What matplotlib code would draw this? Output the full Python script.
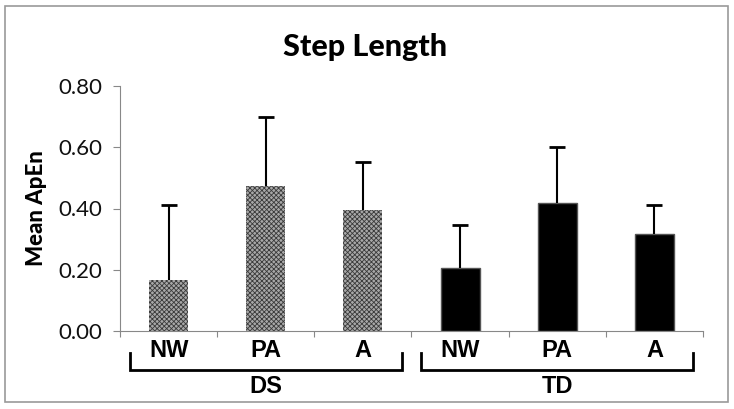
import matplotlib
matplotlib.use("Agg")
import matplotlib.pyplot as plt
from matplotlib.patches import Rectangle
import numpy as np

groups = ['DS', 'TD']
conditions = ['NW', 'PA', 'A']
ds_mean = [0.167, 0.473, 0.395]
ds_sd = [0.245, 0.227, 0.157]
td_mean = [0.206, 0.417, 0.317]
td_sd = [0.141, 0.183, 0.095]
yticks = [0.0, 0.2, 0.4, 0.6, 0.8]

plt.rcParams['hatch.linewidth'] = 0.6

fig = plt.figure(figsize=(7.34, 4.09), dpi=100)
ax = fig.add_axes([120/734, 78/409, 583/734, 245/409])

# outer frame of the picture
fig.patches.append(Rectangle((5/734, 7/409), 723/734, 396/409, transform=fig.transFigure,
                             fill=False, edgecolor='#9a9a9a', linewidth=1.2))

x_ds = np.arange(3)
x_td = np.arange(3) + 3
w = 0.4

ax.bar(x_ds, ds_mean, width=w, color='#a8a8a8', edgecolor='#3a3a3a', hatch='xxxxxxx',
       linewidth=0, zorder=2)
ax.bar(x_td, td_mean, width=w, color='black', edgecolor='#555555', linewidth=1, zorder=2)

# upper error bars only, caps on top
xs = np.arange(6)
means = np.array(ds_mean + td_mean)
sds = np.array(ds_sd + td_sd)
ax.vlines(xs, means, means + sds, color='black', linewidth=1.5, zorder=3)
ax.plot(xs, means + sds, linestyle='none', marker='_', markersize=12,
        markeredgewidth=2, color='black', zorder=3)

ax.set_xlim(-0.5, 5.5)
ax.set_ylim(0, 0.8)
ax.set_yticks(yticks)
ax.set_yticklabels(['%.2f' % v for v in yticks], fontfamily='Lato', fontsize=16, color='#111111')
ax.set_xticks(np.arange(-0.5, 6, 1))
ax.set_xticklabels([])
ax.tick_params(axis='y', direction='out', length=5, color='#888888', pad=8)
ax.tick_params(axis='x', direction='out', length=4, color='#888888')
for s in ['top', 'right']:
    ax.spines[s].set_visible(False)
for s in ['left', 'bottom']:
    ax.spines[s].set_color('#888888')

ax.set_ylabel('Mean ApEn', fontfamily='Lato', fontweight='black', fontsize=16, labelpad=8)
fig.text(365/734, 1 - 47/409, 'Step Length', ha='center', va='center',
         fontfamily='Lato', fontweight='black', fontsize=22)

# category labels and group brackets
trans = ax.get_xaxis_transform()
for i, lab in enumerate(conditions * 2):
    ax.text(i, -0.08, lab, transform=trans, ha='center', va='center',
            fontfamily='Liberation Sans', fontweight='bold', fontsize=17)
for g, name in enumerate(groups):
    x0 = g * 3 - 0.4
    x1 = g * 3 + 2.4
    ax.plot([x0, x0, x1, x1], [-0.09, -0.16, -0.16, -0.09], transform=trans, color='black',
            linewidth=2, clip_on=False, solid_joinstyle='miter')
    ax.text(g * 3 + 1, -0.225, name, transform=trans, ha='center', va='center',
            fontfamily='Liberation Sans', fontweight='bold', fontsize=17)

fig.savefig('out.png', dpi=100)
